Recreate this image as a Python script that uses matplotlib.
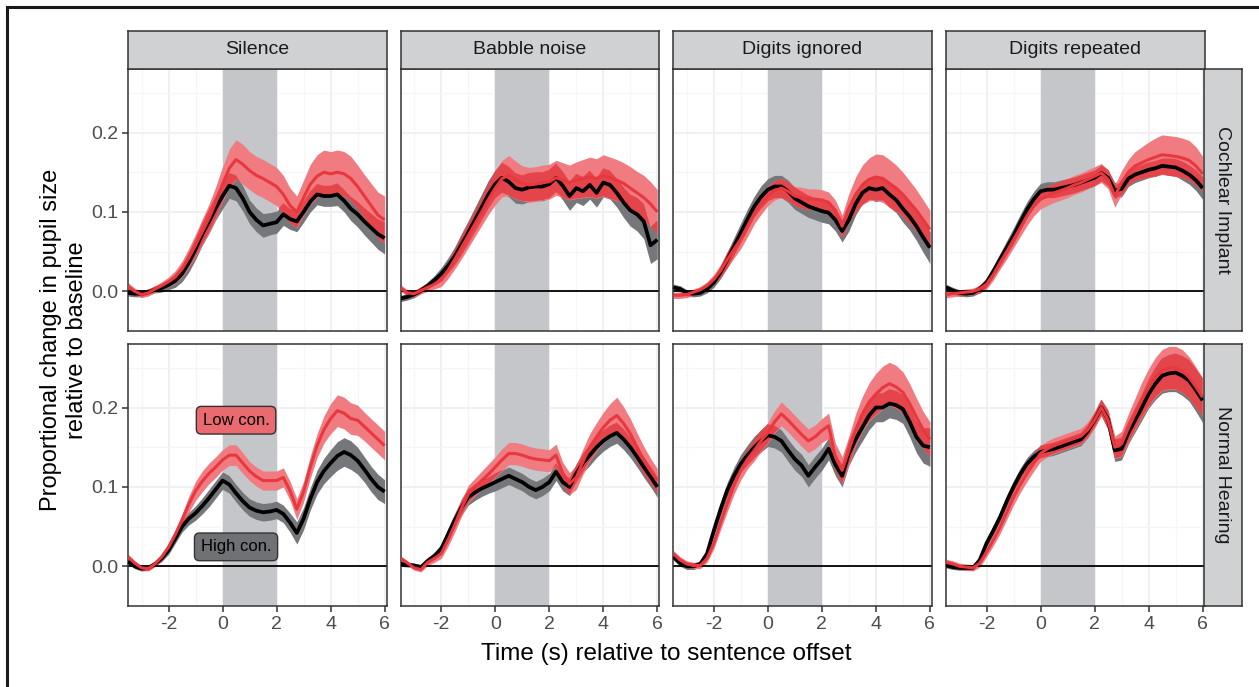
import numpy as np
import matplotlib
matplotlib.use("Agg")
import matplotlib.pyplot as plt
from matplotlib.lines import Line2D

plt.rcParams['font.family'] = ['Liberation Sans', 'DejaVu Sans']

# time axis (s) relative to sentence offset, 0.25 s steps
time_s = np.arange(-3.5, 6.001, 0.25)

conditions = ["Silence", "Babble noise", "Digits ignored", "Digits repeated"]
groups = ["Cochlear Implant", "Normal Hearing"]

# ---- Cochlear Implant (top row) ----
ci_silence_high = [-0.002, -0.003, -0.003, -0.001, 0.002, 0.004, 0.008, 0.013, 0.022, 0.036, 0.053, 0.072, 0.088,
                   0.105, 0.120, 0.133, 0.130, 0.117, 0.100, 0.090, 0.083, 0.085, 0.087, 0.097, 0.091, 0.088,
                   0.100, 0.113, 0.122, 0.120, 0.120, 0.122, 0.114, 0.104, 0.097, 0.088, 0.080, 0.072, 0.067]
ci_silence_low = [0.006, 0.000, -0.004, -0.002, 0.003, 0.007, 0.012, 0.018, 0.028, 0.042, 0.058, 0.075, 0.092,
                  0.112, 0.135, 0.155, 0.166, 0.160, 0.152, 0.146, 0.142, 0.137, 0.132, 0.122, 0.108, 0.100,
                  0.118, 0.135, 0.145, 0.150, 0.148, 0.150, 0.148, 0.142, 0.132, 0.120, 0.108, 0.096, 0.090]
ci_babble_high = [-0.009, -0.007, -0.004, 0.001, 0.007, 0.014, 0.022, 0.032, 0.044, 0.059, 0.074, 0.090, 0.106,
                  0.122, 0.135, 0.143, 0.138, 0.130, 0.128, 0.131, 0.132, 0.132, 0.135, 0.143, 0.133, 0.120,
                  0.130, 0.126, 0.134, 0.124, 0.137, 0.134, 0.124, 0.112, 0.102, 0.097, 0.088, 0.058, 0.065]
ci_babble_low = [0.004, -0.002, -0.003, 0.001, 0.005, 0.009, 0.014, 0.026, 0.040, 0.055, 0.070, 0.085, 0.100,
                 0.116, 0.130, 0.142, 0.146, 0.140, 0.136, 0.134, 0.135, 0.137, 0.138, 0.143, 0.140, 0.137,
                 0.140, 0.142, 0.144, 0.142, 0.146, 0.143, 0.140, 0.136, 0.130, 0.124, 0.118, 0.110, 0.100]
ci_ignored_high = [0.005, 0.003, -0.002, -0.003, -0.002, 0.003, 0.011, 0.024, 0.040, 0.057, 0.074, 0.091, 0.107,
                   0.119, 0.128, 0.132, 0.132, 0.126, 0.117, 0.112, 0.107, 0.104, 0.101, 0.099, 0.090, 0.076,
                   0.090, 0.110, 0.124, 0.130, 0.128, 0.130, 0.122, 0.115, 0.104, 0.094, 0.082, 0.068, 0.055]
ci_ignored_low = [-0.005, -0.005, -0.004, -0.001, 0.002, 0.007, 0.015, 0.026, 0.040, 0.053, 0.066, 0.082, 0.098,
                  0.110, 0.120, 0.127, 0.130, 0.126, 0.120, 0.118, 0.116, 0.116, 0.115, 0.112, 0.102, 0.082,
                  0.105, 0.122, 0.134, 0.141, 0.144, 0.142, 0.136, 0.130, 0.122, 0.112, 0.102, 0.090, 0.078]
ci_repeated_high = [0.005, 0.001, -0.002, -0.003, -0.002, 0.003, 0.011, 0.025, 0.040, 0.055, 0.070, 0.087, 0.103,
                    0.116, 0.126, 0.128, 0.128, 0.130, 0.132, 0.134, 0.137, 0.140, 0.143, 0.149, 0.143, 0.127,
                    0.129, 0.142, 0.147, 0.150, 0.153, 0.155, 0.158, 0.157, 0.156, 0.152, 0.147, 0.140, 0.130]
ci_repeated_low = [-0.004, -0.003, -0.002, -0.001, 0.000, 0.003, 0.009, 0.021, 0.036, 0.050, 0.065, 0.080, 0.095,
                   0.107, 0.116, 0.120, 0.124, 0.127, 0.130, 0.134, 0.137, 0.141, 0.145, 0.149, 0.141, 0.120,
                   0.137, 0.150, 0.158, 0.162, 0.166, 0.169, 0.172, 0.171, 0.170, 0.168, 0.165, 0.158, 0.148]

# ---- Normal Hearing (bottom row) ----
nh_silence_high = [0.006, 0.000, -0.003, -0.002, 0.003, 0.010, 0.020, 0.035, 0.050, 0.060, 0.067, 0.076, 0.086,
                   0.097, 0.108, 0.103, 0.092, 0.082, 0.074, 0.070, 0.068, 0.069, 0.071, 0.066, 0.055, 0.042,
                   0.060, 0.085, 0.106, 0.120, 0.130, 0.139, 0.144, 0.140, 0.133, 0.122, 0.110, 0.100, 0.094]
nh_silence_low = [0.012, 0.004, -0.002, -0.003, 0.003, 0.012, 0.024, 0.040, 0.058, 0.078, 0.095, 0.107, 0.117,
                  0.125, 0.134, 0.140, 0.140, 0.130, 0.120, 0.113, 0.108, 0.108, 0.108, 0.112, 0.095, 0.072,
                  0.094, 0.125, 0.152, 0.172, 0.186, 0.196, 0.193, 0.186, 0.184, 0.176, 0.168, 0.160, 0.152]
nh_babble_high = [0.003, 0.002, 0.001, -0.001, 0.007, 0.013, 0.022, 0.040, 0.058, 0.074, 0.087, 0.093, 0.098,
                  0.102, 0.106, 0.110, 0.114, 0.110, 0.106, 0.100, 0.096, 0.100, 0.106, 0.119, 0.106, 0.100,
                  0.117, 0.130, 0.140, 0.150, 0.158, 0.164, 0.168, 0.160, 0.150, 0.138, 0.125, 0.113, 0.100]
nh_babble_low = [0.010, 0.004, -0.002, -0.004, 0.005, 0.010, 0.016, 0.033, 0.052, 0.073, 0.091, 0.100, 0.108,
                 0.116, 0.125, 0.134, 0.142, 0.142, 0.140, 0.137, 0.135, 0.134, 0.133, 0.140, 0.117, 0.104,
                 0.112, 0.132, 0.150, 0.163, 0.175, 0.184, 0.190, 0.180, 0.167, 0.150, 0.134, 0.120, 0.108]
nh_ignored_high = [0.012, 0.004, 0.000, 0.000, 0.003, 0.016, 0.045, 0.072, 0.096, 0.114, 0.129, 0.140, 0.150,
                   0.158, 0.165, 0.163, 0.158, 0.146, 0.135, 0.127, 0.114, 0.125, 0.135, 0.148, 0.128, 0.114,
                   0.142, 0.160, 0.175, 0.190, 0.200, 0.200, 0.205, 0.203, 0.198, 0.182, 0.163, 0.152, 0.150]
nh_ignored_low = [0.016, 0.008, 0.003, 0.001, 0.001, 0.010, 0.029, 0.055, 0.079, 0.102, 0.121, 0.135, 0.146,
                  0.158, 0.168, 0.182, 0.192, 0.184, 0.175, 0.166, 0.158, 0.163, 0.171, 0.177, 0.138, 0.121,
                  0.146, 0.172, 0.192, 0.207, 0.217, 0.225, 0.230, 0.226, 0.219, 0.205, 0.188, 0.172, 0.160]
nh_repeated_high = [0.001, -0.001, -0.002, -0.002, -0.002, 0.008, 0.029, 0.045, 0.062, 0.082, 0.100, 0.116, 0.129,
                    0.138, 0.144, 0.146, 0.148, 0.151, 0.154, 0.157, 0.160, 0.170, 0.184, 0.200, 0.185, 0.146,
                    0.148, 0.168, 0.184, 0.200, 0.217, 0.230, 0.240, 0.243, 0.244, 0.240, 0.234, 0.222, 0.209]
nh_repeated_low = [0.005, 0.003, 0.000, -0.001, -0.002, 0.004, 0.018, 0.033, 0.049, 0.068, 0.087, 0.103, 0.117,
                   0.130, 0.142, 0.148, 0.152, 0.155, 0.158, 0.161, 0.164, 0.172, 0.184, 0.200, 0.184, 0.150,
                   0.154, 0.174, 0.192, 0.210, 0.225, 0.238, 0.247, 0.250, 0.250, 0.246, 0.238, 0.226, 0.213]

# ribbon half-widths (standard error)
ci_silence_high_se = [0.004, 0.004, 0.004, 0.004, 0.004, 0.005, 0.006, 0.008, 0.010, 0.012, 0.013, 0.014, 0.015,
                      0.015, 0.016, 0.016, 0.016, 0.016, 0.015, 0.015, 0.015, 0.014, 0.014, 0.014, 0.013, 0.013,
                      0.013, 0.013, 0.013, 0.013, 0.013, 0.014, 0.014, 0.015, 0.016, 0.017, 0.018, 0.019, 0.020]
ci_silence_low_se = [0.005, 0.004, 0.004, 0.004, 0.004, 0.005, 0.006, 0.008, 0.010, 0.012, 0.014, 0.016, 0.018,
                     0.020, 0.022, 0.024, 0.025, 0.025, 0.024, 0.024, 0.024, 0.024, 0.024, 0.024, 0.022, 0.020,
                     0.022, 0.025, 0.027, 0.028, 0.028, 0.028, 0.028, 0.028, 0.027, 0.027, 0.028, 0.029, 0.030]
ci_babble_high_se = [0.004, 0.004, 0.004, 0.004, 0.005, 0.006, 0.008, 0.010, 0.012, 0.014, 0.015, 0.016, 0.017,
                     0.018, 0.018, 0.019, 0.019, 0.019, 0.018, 0.018, 0.018, 0.018, 0.018, 0.018, 0.018, 0.018,
                     0.018, 0.018, 0.018, 0.018, 0.018, 0.018, 0.018, 0.019, 0.020, 0.021, 0.022, 0.023, 0.024]
ci_babble_low_se = [0.004, 0.004, 0.004, 0.004, 0.005, 0.006, 0.008, 0.010, 0.012, 0.014, 0.015, 0.016, 0.017,
                    0.019, 0.021, 0.023, 0.025, 0.024, 0.022, 0.022, 0.022, 0.022, 0.022, 0.022, 0.022, 0.022,
                    0.023, 0.024, 0.025, 0.025, 0.026, 0.026, 0.026, 0.026, 0.027, 0.027, 0.028, 0.028, 0.028]
ci_ignored_high_se = [0.004, 0.004, 0.004, 0.004, 0.004, 0.005, 0.006, 0.008, 0.010, 0.011, 0.012, 0.013, 0.013,
                      0.014, 0.014, 0.014, 0.014, 0.014, 0.014, 0.014, 0.014, 0.014, 0.014, 0.014, 0.014, 0.014,
                      0.014, 0.014, 0.014, 0.014, 0.015, 0.015, 0.016, 0.016, 0.017, 0.017, 0.018, 0.019, 0.020]
ci_ignored_low_se = [0.004, 0.004, 0.004, 0.004, 0.004, 0.005, 0.006, 0.008, 0.010, 0.011, 0.012, 0.013, 0.013,
                     0.013, 0.012, 0.012, 0.012, 0.012, 0.012, 0.013, 0.013, 0.013, 0.013, 0.013, 0.013, 0.014,
                     0.018, 0.022, 0.025, 0.027, 0.029, 0.030, 0.030, 0.029, 0.028, 0.027, 0.026, 0.025, 0.024]
ci_repeated_high_se = [0.004, 0.004, 0.004, 0.004, 0.004, 0.005, 0.006, 0.007, 0.008, 0.009, 0.010, 0.010, 0.010,
                       0.010, 0.010, 0.010, 0.010, 0.010, 0.010, 0.010, 0.010, 0.010, 0.010, 0.010, 0.010, 0.010,
                       0.010, 0.010, 0.010, 0.010, 0.010, 0.010, 0.010, 0.011, 0.011, 0.012, 0.012, 0.013, 0.014]
ci_repeated_low_se = [0.004, 0.004, 0.004, 0.004, 0.004, 0.005, 0.006, 0.007, 0.008, 0.009, 0.010, 0.011, 0.012,
                      0.012, 0.012, 0.012, 0.012, 0.012, 0.012, 0.012, 0.012, 0.012, 0.012, 0.012, 0.012, 0.014,
                      0.015, 0.016, 0.018, 0.020, 0.022, 0.024, 0.025, 0.025, 0.025, 0.025, 0.025, 0.024, 0.022]
nh_silence_high_se = [0.003, 0.003, 0.003, 0.003, 0.003, 0.004, 0.005, 0.006, 0.007, 0.008, 0.009, 0.010, 0.011,
                      0.011, 0.011, 0.011, 0.011, 0.011, 0.011, 0.011, 0.011, 0.011, 0.011, 0.011, 0.012, 0.014,
                      0.014, 0.014, 0.015, 0.016, 0.017, 0.018, 0.018, 0.018, 0.017, 0.016, 0.016, 0.016, 0.015]
nh_silence_low_se = [0.003, 0.003, 0.003, 0.003, 0.003, 0.004, 0.005, 0.006, 0.008, 0.010, 0.012, 0.013, 0.013,
                     0.013, 0.013, 0.013, 0.013, 0.013, 0.012, 0.012, 0.012, 0.012, 0.012, 0.012, 0.012, 0.013,
                     0.013, 0.014, 0.015, 0.017, 0.019, 0.020, 0.020, 0.020, 0.019, 0.018, 0.018, 0.018, 0.018]
nh_babble_high_se = [0.003, 0.003, 0.003, 0.003, 0.004, 0.005, 0.006, 0.008, 0.009, 0.010, 0.010, 0.010, 0.010,
                     0.010, 0.011, 0.011, 0.011, 0.011, 0.011, 0.011, 0.011, 0.011, 0.011, 0.011, 0.011, 0.011,
                     0.012, 0.012, 0.013, 0.013, 0.013, 0.013, 0.013, 0.013, 0.013, 0.013, 0.013, 0.013, 0.013]
nh_babble_low_se = [0.003, 0.003, 0.003, 0.003, 0.004, 0.005, 0.006, 0.008, 0.009, 0.010, 0.011, 0.011, 0.012,
                    0.013, 0.013, 0.014, 0.014, 0.014, 0.014, 0.014, 0.014, 0.014, 0.014, 0.014, 0.014, 0.014,
                    0.015, 0.016, 0.017, 0.018, 0.019, 0.021, 0.023, 0.021, 0.019, 0.018, 0.017, 0.016, 0.015]
nh_ignored_high_se = [0.004, 0.004, 0.004, 0.004, 0.004, 0.005, 0.007, 0.009, 0.010, 0.011, 0.012, 0.013, 0.014,
                      0.014, 0.014, 0.014, 0.014, 0.014, 0.014, 0.014, 0.014, 0.014, 0.014, 0.014, 0.014, 0.014,
                      0.015, 0.016, 0.017, 0.018, 0.018, 0.018, 0.018, 0.018, 0.018, 0.019, 0.020, 0.022, 0.024]
nh_ignored_low_se = [0.004, 0.004, 0.004, 0.004, 0.004, 0.005, 0.007, 0.009, 0.010, 0.011, 0.012, 0.012, 0.013,
                     0.013, 0.013, 0.014, 0.015, 0.015, 0.015, 0.015, 0.015, 0.015, 0.015, 0.016, 0.017, 0.017,
                     0.018, 0.020, 0.022, 0.024, 0.026, 0.027, 0.027, 0.027, 0.026, 0.025, 0.024, 0.023, 0.022]
nh_repeated_high_se = [0.003, 0.003, 0.003, 0.003, 0.003, 0.004, 0.005, 0.006, 0.007, 0.008, 0.008, 0.008, 0.008,
                       0.008, 0.008, 0.008, 0.008, 0.008, 0.008, 0.008, 0.008, 0.008, 0.009, 0.010, 0.012, 0.014,
                       0.014, 0.014, 0.015, 0.016, 0.018, 0.020, 0.022, 0.023, 0.024, 0.025, 0.026, 0.027, 0.028]
nh_repeated_low_se = [0.004, 0.004, 0.004, 0.004, 0.004, 0.005, 0.006, 0.007, 0.008, 0.009, 0.010, 0.010, 0.010,
                      0.010, 0.010, 0.010, 0.010, 0.010, 0.010, 0.010, 0.010, 0.010, 0.010, 0.010, 0.012, 0.014,
                      0.016, 0.018, 0.020, 0.022, 0.024, 0.025, 0.026, 0.027, 0.027, 0.027, 0.026, 0.025, 0.024]

panels = [
    [(ci_silence_high, ci_silence_high_se, ci_silence_low, ci_silence_low_se),
     (ci_babble_high, ci_babble_high_se, ci_babble_low, ci_babble_low_se),
     (ci_ignored_high, ci_ignored_high_se, ci_ignored_low, ci_ignored_low_se),
     (ci_repeated_high, ci_repeated_high_se, ci_repeated_low, ci_repeated_low_se)],
    [(nh_silence_high, nh_silence_high_se, nh_silence_low, nh_silence_low_se),
     (nh_babble_high, nh_babble_high_se, nh_babble_low, nh_babble_low_se),
     (nh_ignored_high, nh_ignored_high_se, nh_ignored_low, nh_ignored_low_se),
     (nh_repeated_high, nh_repeated_high_se, nh_repeated_low, nh_repeated_low_se)],
]

W, H = 1259, 687
fig = plt.figure(figsize=(W / 100, H / 100), dpi=100)

EDGE = '#333333'
STRIP = '#d0d1d3'
col_left = [128, 400.7, 673.3, 946]
col_w = 258.5
row_top = [69, 344]
row_h = 262


def px_axes(x0, y0, w, h, **kw):
    # pixel box (top-left origin) -> figure axes
    return fig.add_axes([x0 / W, (H - y0 - h) / H, w / W, h / H], **kw)


for r in range(2):
    for c in range(4):
        ax = px_axes(col_left[c], row_top[r], col_w, row_h)
        high, high_se, low, low_se = [np.array(a) for a in panels[r][c]]

        ax.axvspan(0, 2, color='#c4c6c9', lw=0, zorder=1)
        ax.axhline(0, color='black', lw=1.3, zorder=2.5)

        h_lo, h_hi = high - high_se, high + high_se
        l_lo, l_hi = low - low_se, low + low_se
        ax.fill_between(time_s, h_lo, h_hi, color='#76777a', lw=0, zorder=2)
        ax.fill_between(time_s, l_lo, l_hi, color='#f07c82', lw=0, zorder=2.1)
        o_lo = np.maximum(h_lo, l_lo)
        o_hi = np.minimum(h_hi, l_hi)
        ax.fill_between(time_s, o_lo, o_hi, where=o_hi > o_lo, interpolate=True,
                        color='#e4454b', lw=0, zorder=2.2)

        ax.plot(time_s, high, color='black', lw=2.7, zorder=3, solid_capstyle='butt')
        ax.plot(time_s, low, color='#e8373e', lw=2.2, zorder=4, solid_capstyle='butt')

        ax.set_xlim(-3.5, 6.07)
        ax.set_ylim(-0.05, 0.28)
        ax.set_xticks([-2, 0, 2, 4, 6])
        ax.set_xticks([-3, -1, 1, 3, 5], minor=True)
        ax.set_yticks([0.0, 0.1, 0.2])
        ax.set_yticks([-0.05, 0.05, 0.15, 0.25], minor=True)
        ax.grid(which='major', color='#eef0f2', lw=1.4, zorder=0)
        ax.grid(which='minor', color='#f5f6f7', lw=0.9, zorder=0)
        ax.set_axisbelow(True)
        ax.tick_params(which='minor', length=0)
        ax.tick_params(which='major', length=4, width=1.1, color=EDGE,
                       labelsize=14, labelcolor='#4d4d4d', pad=3)
        for s in ax.spines.values():
            s.set_color(EDGE)
            s.set_linewidth(1.1)
        if c == 0:
            ax.set_yticklabels(['0.0', '0.1', '0.2'])
        else:
            ax.set_yticklabels([])
            ax.tick_params(axis='y', length=0)
        if r == 0:
            ax.set_xticklabels([])
            ax.tick_params(axis='x', length=0)
        else:
            ax.set_xticklabels(['-2', '0', '2', '4', '6'])

        if r == 1 and c == 0:
            ax.text(0.5, 0.184, 'Low con.', ha='center', va='center', fontsize=12, zorder=6,
                    bbox=dict(boxstyle='round,pad=0.38,rounding_size=0.3', fc='#ea6a70', ec=EDGE, lw=1))
            ax.text(0.5, 0.0245, 'High con.', ha='center', va='center', fontsize=12, zorder=6,
                    bbox=dict(boxstyle='round,pad=0.38,rounding_size=0.3', fc='#707174', ec=EDGE, lw=1))

    # right strip for the row
    sax = px_axes(1204, row_top[r], 38, row_h, facecolor=STRIP)
    sax.set_xticks([])
    sax.set_yticks([])
    for s in sax.spines.values():
        s.set_color(EDGE)
        s.set_linewidth(1.1)
    sax.text(0.5, 0.5, groups[r], rotation=-90, ha='center', va='center',
             fontsize=14, color='#1a1a1a', transform=sax.transAxes)

for c in range(4):
    sax = px_axes(col_left[c], 31, col_w, 38, facecolor=STRIP)
    sax.set_xticks([])
    sax.set_yticks([])
    for s in sax.spines.values():
        s.set_color(EDGE)
        s.set_linewidth(1.1)
    sax.text(0.5, 0.5, conditions[c], ha='center', va='center',
             fontsize=14, color='#1a1a1a', transform=sax.transAxes)

fig.text((128 + 1204) / 2 / W, 1 - 654 / H, 'Time (s) relative to sentence offset',
         ha='center', va='center', fontsize=17.5, color='black')
fig.text(64 / W, 1 - 340 / H, 'Proportional change in pupil size\nrelative to baseline',
         ha='center', va='center', rotation=90, fontsize=17, color='black', linespacing=1.25)

# outer frame (left and top edges visible)
fig.add_artist(Line2D([7 / W, 7 / W], [0, 1 - 7 / H], transform=fig.transFigure, color='#1a1a1a', lw=2.2))
fig.add_artist(Line2D([7 / W, 1], [1 - 7 / H, 1 - 7 / H], transform=fig.transFigure, color='#1a1a1a', lw=2.2))

fig.savefig('out.png', dpi=100)
